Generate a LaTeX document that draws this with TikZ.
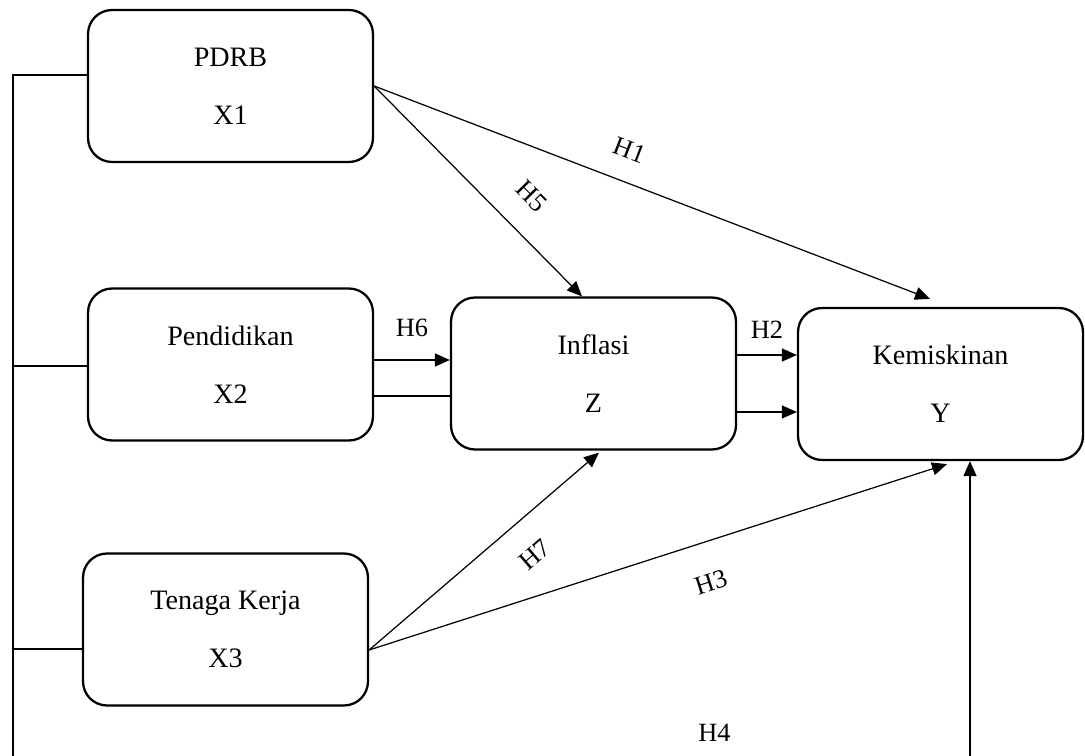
\documentclass[tikz,border=0pt]{standalone}
\usepackage{fontspec}
\setmainfont{Liberation Serif}
\usetikzlibrary{arrows.meta}
\definecolor{lineColor}{RGB}{0, 0, 0}
\tikzset{
    var_box/.style={
        draw=lineColor,
        line width=1.3pt,
        rounded corners=0.48cm,
        minimum width=5.7cm,
        minimum height=3.04cm,
        align=center,
        text=lineColor,
        font=\fontsize{16pt}{33pt}\selectfont
    },
    path_edge/.style={
        -{Triangle[length=0.3cm, width=0.26cm]},
        line width=0.7pt,
        draw=lineColor
    },
    plain_edge/.style={
        line width=0.7pt,
        draw=lineColor
    },
    hyp_label/.style={
        font=\fontsize{15pt}{17pt}\selectfont,
        text=lineColor,
        inner sep=0pt
    }
}

\begin{document}
\begin{tikzpicture}[x=0.02cm, y=-0.02cm]
    \clip (0,0) rectangle (1085,756);

    % variables
    \node[var_box] (X1) at (230.5,86) {PDRB\\X1};
    \node[var_box] (X2) at (230.5,364.5) {Pendidikan\\X2};
    \node[var_box] (X3) at (225.5,629.5) {Tenaga Kerja\\X3};
    \node[var_box] (Z) at (593.5,373.5) {Inflasi\\Z};
    \node[var_box] (Y) at (940.5,384) {Kemiskinan\\Y};

    % left bus
    \coordinate (busTop) at (13,75);
    \coordinate (busMid) at (13,366);
    \coordinate (busLow) at (13,649);
    \coordinate (busEnd) at (13,780);
    \coordinate (busTurn) at (970,780);

    \draw[path_edge] (X1.west |- busTop) -- (busTop) -- (busEnd)
        -- node[hyp_label, pos=0.733, above=0.75cm] {H4} (busTurn)
        -- (busTurn |- Y.south);
    \draw[plain_edge] (X2.west |- busMid) -- (busMid);
    \draw[plain_edge] (X3.west |- busLow) -- (busLow);

    % from X1
    \draw[path_edge] (X1.east)
        -- node[hyp_label, pos=0.64, sloped, above=0.5cm] {H5}
        ([xshift=-0.23cm]Z.north);
    \draw[path_edge] (X1.east)
        -- node[hyp_label, pos=0.44, sloped, above=0.44cm] {H1}
        ([xshift=-0.21cm, yshift=0.16cm]Y.north);

    % from X2
    \coordinate (x2up) at ([yshift=0.09cm]X2.east);
    \coordinate (x2low) at ([yshift=-0.63cm]X2.east);
    \draw[path_edge] (x2up)
        -- node[hyp_label, midway, above=0.45cm] {H6} (x2up -| Z.west);
    \draw[plain_edge] (x2low) -- (x2low -| Z.west);

    % from Z
    \coordinate (zup) at ([yshift=0.37cm]Z.east);
    \coordinate (zlow) at ([yshift=-0.77cm]Z.east);
    \draw[path_edge] (zup)
        -- node[hyp_label, midway, above=0.31cm] {H2} (zup -| Y.west);
    \draw[path_edge] (zlow) -- (zlow -| Y.west);

    % from X3
    \coordinate (x3out) at ([yshift=-0.41cm]X3.east);
    \draw[path_edge] (x3out)
        -- node[hyp_label, pos=0.62, sloped, below=0.52cm] {H7}
        ([xshift=0.11cm, yshift=-0.04cm]Z.south);
    \draw[path_edge] (x3out)
        -- node[hyp_label, pos=0.57, sloped, below=0.62cm] {H3}
        ([xshift=0.13cm, yshift=-0.06cm]Y.south);
\end{tikzpicture}
\end{document}
